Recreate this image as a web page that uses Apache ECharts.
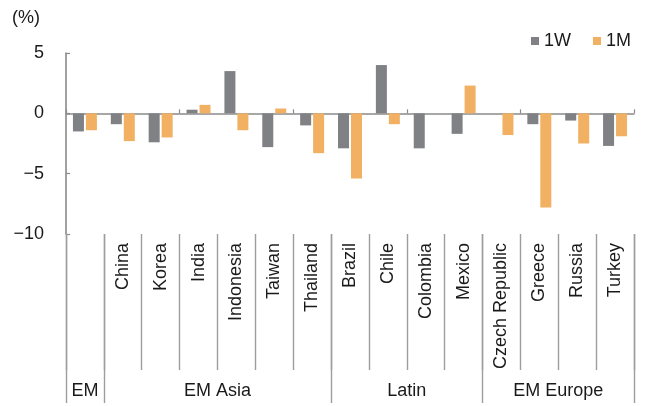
<!DOCTYPE html>
<html>
<head>
<meta charset="utf-8">
<script src="https://cdn.jsdelivr.net/npm/echarts@6/dist/echarts.min.js"></script>
<style>
  html, body { margin: 0; padding: 0; background: #fff; }
  #chart { width: 645px; height: 406px; }
</style>
</head>
<body>
<div id="chart"></div>
<script>
// Markets, weekly and monthly returns (%)
const markets = ['EM', 'China', 'Korea', 'India', 'Indonesia', 'Taiwan', 'Thailand',
  'Brazil', 'Chile', 'Colombia', 'Mexico', 'Czech Republic', 'Greece', 'Russia', 'Turkey'];
const ret1W = [-1.5, -0.9, -2.4, 0.3, 3.5, -2.8, -1.0, -2.9, 4.0, -2.9, -1.7, 0, -0.9, -0.6, -2.7];
const ret1M = [-1.4, -2.3, -2.0, 0.7, -1.4, 0.4, -3.3, -5.4, -0.9, 0, 2.3, -1.8, -7.8, -2.5, -1.9];

// Regional groups: name and number of markets in each
const groupNames = ['EM', 'EM Asia', 'Latin', 'EM Europe'];
const groupSizes = [1, 6, 4, 4];

const yTicks = [5, 0, -5, -10];

// group boundaries and centres in category units
const groupEdges = [0];
groupSizes.forEach(s => groupEdges.push(groupEdges[groupEdges.length - 1] + s));
const groupCentres = groupSizes.map((s, i) => groupEdges[i] + s / 2);

// a single-market group carries its name only on the group row
const soloGroups = new Set(groupSizes.map((s, i) => s === 1 ? groupEdges[i] : -1));

const FONT = '"Liberation Sans", Arial, sans-serif';
const TEXT = '#1a1a1a';
const LINE = '#8a8a8a';

const chart = echarts.init(document.getElementById('chart'), null, { renderer: 'canvas' });

chart.setOption({
  animation: false,
  textStyle: { fontFamily: FONT, color: TEXT },
  grid: { left: 66, right: 11, top: 53, bottom: 172, containLabel: false },
  legend: {
    data: ['1W', '1M'],
    right: 9,
    top: 27,
    icon: 'rect',
    itemWidth: 8,
    itemHeight: 8,
    itemGap: 22,
    textStyle: { fontFamily: FONT, fontSize: 18, color: TEXT }
  },
  xAxis: [
    {
      type: 'category',
      data: markets,
      axisLine: { onZero: true, lineStyle: { color: LINE, width: 1.6 } },
      axisTick: { show: true, inside: true, length: 4, lineStyle: { color: LINE, width: 1.2 } },
      axisLabel: { show: false },
      splitLine: { show: false }
    },
    {
      type: 'category',
      data: markets,
      position: 'bottom',
      axisLine: { show: false, onZero: false },
      axisTick: { show: true, length: 136, interval: 0, lineStyle: { color: '#9d9d9d', width: 1.4 } },
      axisLabel: {
        interval: 0, rotate: 90, margin: 9,
        fontFamily: FONT, fontSize: 18, color: TEXT,
        formatter: (v, i) => soloGroups.has(i) ? '' : v
      },
      splitLine: { show: false }
    },
    {
      type: 'value',
      min: 0,
      max: markets.length,
      position: 'bottom',
      axisLine: { show: false, onZero: false },
      axisTick: {
        show: true, length: 169, customValues: groupEdges,
        lineStyle: { color: '#9d9d9d', width: 1.4 }
      },
      axisLabel: {
        customValues: groupCentres,
        margin: 148,
        fontFamily: FONT, fontSize: 18, color: TEXT,
        formatter: v => {
          const i = groupCentres.indexOf(v);
          return i >= 0 ? groupNames[i] : '';
        }
      },
      splitLine: { show: false }
    }
  ],
  yAxis: {
    type: 'value',
    min: -10,
    max: 5,
    interval: 5,
    name: '(%)',
    nameLocation: 'end',
    nameGap: 26,
    nameTextStyle: { fontFamily: FONT, fontSize: 18, color: TEXT, align: 'right', padding: [0, 26, 0, 0] },
    axisLine: { show: true, lineStyle: { color: LINE, width: 1.6 } },
    axisTick: { show: true, inside: true, length: 4, lineStyle: { color: LINE, width: 1.2 } },
    axisLabel: {
      margin: 22, fontFamily: FONT, fontSize: 18, color: TEXT,
      formatter: v => String(v).replace('-', '\u2212')
    },
    splitLine: { show: false }
  },
  series: [
    {
      name: '1W', type: 'bar', data: ret1W, xAxisIndex: 0,
      barWidth: 11, barGap: '18%',
      itemStyle: { color: '#7f8184' }
    },
    {
      name: '1M', type: 'bar', data: ret1M, xAxisIndex: 0,
      barWidth: 11, barGap: '18%',
      itemStyle: { color: '#f1b062' }
    }
  ]
});
</script>
</body>
</html>
